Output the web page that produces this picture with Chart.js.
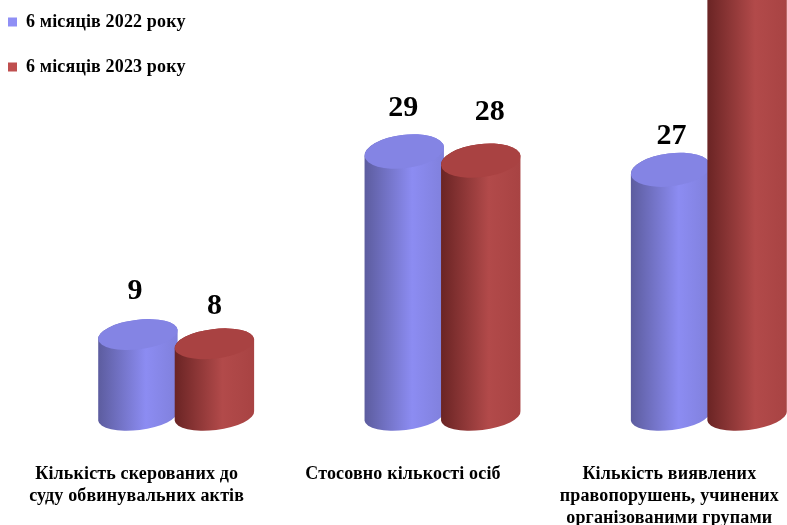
<!DOCTYPE html>
<html>
<head>
<meta charset="utf-8">
<script src="https://cdn.jsdelivr.net/npm/chart.js@4"></script>
<style>
  html, body { margin: 0; background: #fff; overflow: hidden; }
  canvas { display: block; }
</style>
</head>
<body>
<!-- canvas is wider than the window on purpose, the last red bar is cut by the right edge -->
<canvas id="cylChart" width="860" height="525"></canvas>
<script>
const categories = [
  ["Кількість скерованих до", "суду обвинувальних актів"],
  "Стосовно кількості осіб",
  ["Кількість виявлених", "правопорушень, учинених", "організованими групами"]
];
const seriesNames = ["6 місяців 2022 року", "6 місяців 2023 року"];
const values2022 = [9, 29, 27];
// third red bar runs off the top of the picture and has no label, value is a guess
const values2023 = [8, 28, 52];
const hiddenLabels2023 = [false, false, true];

const serif = "'Liberation Serif', 'Times New Roman', serif";

// hand nudges for the value labels, they don't sit on a fixed offset in the original
const labelNudge = [
  [[-3, -43.5], [-1, -42], [1, -32.5]],
  [[0, -37.5], [9, -46.5], [0, 0]]
];

const shades = [
  { dark: "#5c5c9e", mid: "#8c8cf2", end: "#8080dc", top: "#8484e4" },
  { dark: "#6a2424", mid: "#b24a4a", end: "#a84343", top: "#a94242" }
];

function drawCylinders(chart, index) {
  const ctx = chart.ctx;
  const shade = shades[index];
  const tilt = -7 * Math.PI / 180;
  const rx = 40;
  chart.getDatasetMeta(index).data.forEach(bar => {
    const x = bar.x;
    // tall cylinders show a slightly rounder lid
    const ry = 14 + (bar.base - bar.y) / 100;
    const lidY = bar.y + ry - 15;
    const grad = ctx.createLinearGradient(x - rx, 0, x + rx, 0);
    grad.addColorStop(0, shade.dark);
    grad.addColorStop(0.6, shade.mid);
    grad.addColorStop(1, shade.end);
    ctx.save();
    ctx.beginPath();
    ctx.ellipse(x, bar.base - 2, rx, 14, tilt, Math.PI, 0, true);
    ctx.ellipse(x, lidY, rx, ry, tilt, 0, Math.PI, true);
    ctx.closePath();
    ctx.fillStyle = grad;
    ctx.fill();
    ctx.beginPath();
    ctx.ellipse(x, lidY, rx, ry, tilt, 0, Math.PI * 2);
    ctx.fillStyle = shade.top;
    ctx.fill();
    ctx.restore();
  });
}

const cylinderPlugin = {
  id: "cylinders",
  beforeDraw(chart) {
    chart.ctx.letterSpacing = "0.15px";
  },
  // the flat bars are skipped, red has to go over blue
  beforeDatasetDraw() {
    return false;
  },
  afterDatasetsDraw(chart) {
    drawCylinders(chart, 0);
    drawCylinders(chart, 1);
    const ctx = chart.ctx;
    ctx.save();
    ctx.letterSpacing = "0px";
    ctx.font = "bold 30px " + serif;
    ctx.fillStyle = "#000";
    ctx.textAlign = "center";
    ctx.textBaseline = "middle";
    chart.data.datasets.forEach((ds, d) => {
      chart.getDatasetMeta(d).data.forEach((bar, i) => {
        if (d === 1 && hiddenLabels2023[i]) return;
        const n = labelNudge[d][i];
        ctx.fillText(ds.data[i], bar.x + n[0], bar.y + n[1]);
      });
    });
    ctx.restore();
  },
  // legend sits in the far corner, outside the plot area
  afterLayout(chart) {
    chart.legend.left = -19;
    chart.legend.top = -14;
  }
};

new Chart(document.getElementById("cylChart"), {
  type: "bar",
  data: {
    labels: categories,
    datasets: [
      { label: seriesNames[0], data: values2022, backgroundColor: "#8f8ff5" },
      { label: seriesNames[1], data: values2023, backgroundColor: "#bf4f4f" }
    ]
  },
  options: {
    responsive: false,
    animation: false,
    barThickness: 76.5,
    layout: { padding: { left: 43, right: 18, top: 0, bottom: 0 } },
    plugins: {
      tooltip: { enabled: false },
      legend: {
        position: "chartArea",
        align: "start",
        labels: {
          boxWidth: 9,
          boxHeight: 9,
          padding: 27,
          color: "#000",
          font: { family: serif, size: 18, weight: "bold" }
        }
      }
    },
    scales: {
      x: {
        grid: { display: false, drawTicks: false },
        border: { display: false },
        afterFit(scale) {
          scale.height = 107;
          scale.paddingLeft = 0;
          scale.paddingRight = 0;
        },
        ticks: {
          autoSkip: false,
          maxRotation: 0,
          padding: 45,
          labelOffset: -39.5,
          color: "#000",
          font: { family: serif, size: 18, weight: "bold", lineHeight: 1.22 }
        }
      },
      y: {
        display: false,
        min: 0,
        max: 45.2
      }
    }
  },
  plugins: [cylinderPlugin]
});
</script>
</body>
</html>
